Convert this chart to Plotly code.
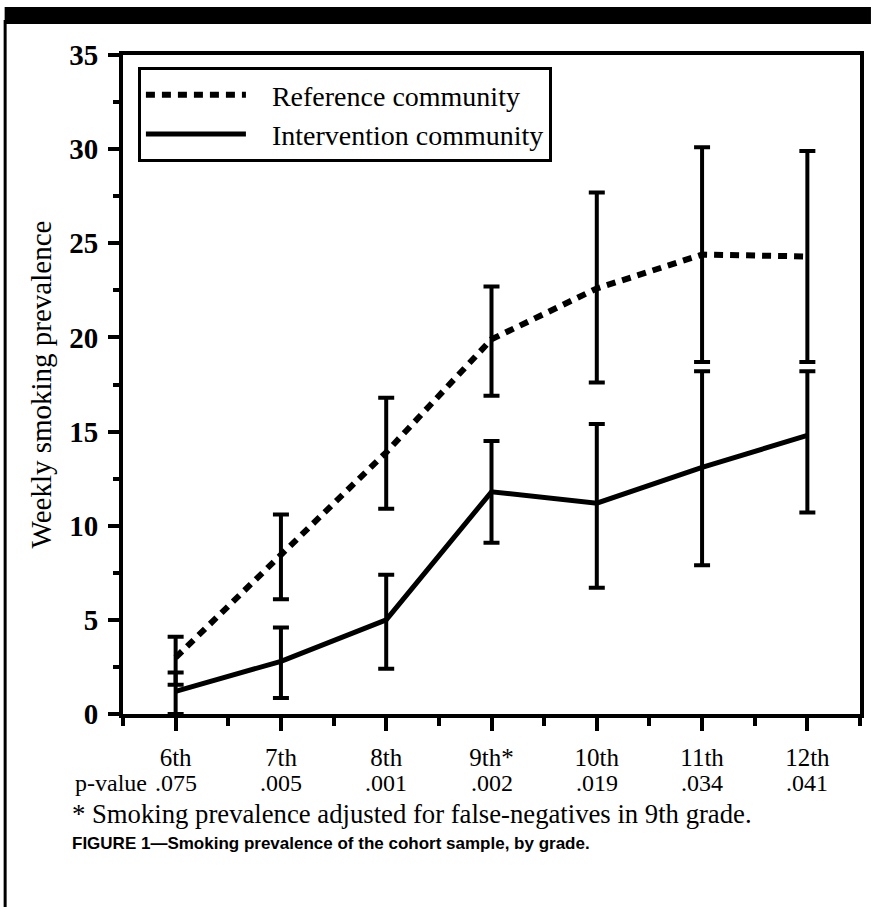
import plotly.graph_objects as go

# ---- data ----
grades = ["6th", "7th", "8th", "9th*", "10th", "11th", "12th"]
p_values = [".075", ".005", ".001", ".002", ".019", ".034", ".041"]

ref_mean = [3.0, 8.5, 13.9, 19.9, 22.6, 24.4, 24.3]
ref_upper = [4.1, 10.6, 16.8, 22.7, 27.7, 30.1, 29.9]
ref_lower = [1.55, 6.1, 10.9, 16.9, 17.6, 18.7, 18.7]

int_mean = [1.2, 2.8, 5.0, 11.8, 11.2, 13.1, 14.8]
int_upper = [2.2, 4.6, 7.4, 14.5, 15.4, 18.2, 18.2]
int_lower = [0.0, 0.85, 2.4, 9.1, 6.7, 7.9, 10.7]

y_ticks = [0, 5, 10, 15, 20, 25, 30, 35]

SERIF = "Liberation Serif, Times New Roman, serif"
SANS = "Liberation Sans, Arial, sans-serif"

W, H = 875, 907
L, R, T, B = 123, 11, 55, 193
pw, ph = W - L - R, H - T - B


def px_x(x):
    return (x - L) / pw


def px_y(y):
    return 1 - (y - T) / ph


xs = list(range(len(grades)))

fig = go.Figure()


def err(mean, up, lo):
    return dict(
        type="data", symmetric=False,
        array=[u - m for u, m in zip(up, mean)],
        arrayminus=[m - l for m, l in zip(mean, lo)],
        color="black", thickness=4, width=8,
    )


fig.add_trace(go.Scatter(
    x=xs, y=ref_mean, mode="lines", name="\u00a0\u00a0\u00a0Reference community",
    line=dict(color="black", width=6, dash="9px,7px"),
    error_y=err(ref_mean, ref_upper, ref_lower),
))
fig.add_trace(go.Scatter(
    x=xs, y=int_mean, mode="lines", name="\u00a0\u00a0\u00a0Intervention community",
    line=dict(color="black", width=5),
    error_y=err(int_mean, int_upper, int_lower),
))

annotations = []
for i, pv in enumerate(p_values):
    annotations.append(dict(
        x=i, y=px_y(783), xref="x", yref="paper", text=pv, showarrow=False,
        xanchor="center", yanchor="middle",
        font=dict(family=SERIF, size=24, color="black"),
    ))
annotations.append(dict(
    x=px_x(149), y=px_y(783), xref="paper", yref="paper", text="p-value",
    showarrow=False, xanchor="right", yanchor="middle",
    font=dict(family=SERIF, size=24, color="black"),
))
annotations.append(dict(
    x=px_x(70), y=px_y(814), xref="paper", yref="paper",
    text="* Smoking prevalence adjusted for false-negatives in 9th grade.",
    showarrow=False, xanchor="left", yanchor="middle",
    font=dict(family=SERIF, size=26.7, color="black"),
))
annotations.append(dict(
    x=px_x(70), y=px_y(843), xref="paper", yref="paper",
    text="<b>FIGURE 1—Smoking prevalence of the cohort sample, by grade.</b>",
    showarrow=False, xanchor="left", yanchor="middle",
    font=dict(family=SANS, size=17, color="black"),
))

shapes = [
    # top black band
    dict(type="rect", xref="paper", yref="paper",
         x0=px_x(4), x1=px_x(W), y0=px_y(24), y1=px_y(7),
         fillcolor="black", line=dict(width=0), layer="above"),
    # left border line
    dict(type="line", xref="paper", yref="paper",
         x0=px_x(4.5), x1=px_x(4.5), y0=px_y(H), y1=px_y(20),
         line=dict(color="black", width=3)),
]

fig.update_layout(
    width=W, height=H,
    margin=dict(l=L, r=R, t=T, b=B, pad=0),
    paper_bgcolor="white", plot_bgcolor="white",
    showlegend=True,
    legend=dict(
        x=px_x(138), y=px_y(67), xanchor="left", yanchor="top",
        bordercolor="black", borderwidth=3, bgcolor="white",
        font=dict(family=SERIF, size=28, color="black"),
        itemwidth=100, tracegroupgap=0,
    ),
    annotations=annotations,
    shapes=shapes,
    font=dict(family=SERIF, color="black"),
)

fig.update_xaxes(
    range=[-0.5, 6.5], tickmode="array", tickvals=xs, ticktext=grades,
    showline=True, linecolor="black", linewidth=4, mirror=True,
    ticks="outside", ticklen=13, tickwidth=4, tickcolor="black",
    showgrid=False, zeroline=False,
    tickfont=dict(family=SERIF, size=25, color="black"),
    ticklabelstandoff=5,
    minor=dict(tickmode="array", tickvals=[i - 0.5 for i in range(len(grades) + 1)],
               ticks="outside", ticklen=8, tickwidth=4, tickcolor="black"),
)
fig.update_yaxes(
    range=[0, 35], tickmode="array", tickvals=y_ticks,
    ticktext=[f"<b>{v}</b>" for v in y_ticks],
    showline=True, linecolor="black", linewidth=4, mirror=True,
    ticks="outside", ticklen=11, tickwidth=4, tickcolor="black",
    showgrid=False, zeroline=False,
    tickfont=dict(family=SERIF, size=29, color="black"),
    ticklabelstandoff=4,
    minor=dict(tickmode="array", tickvals=[v + 2.5 for v in y_ticks[:-1]],
               ticks="outside", ticklen=6, tickwidth=4, tickcolor="black"),
    title=dict(text="Weekly smoking prevalence",
               font=dict(family=SERIF, size=29, color="black"), standoff=10),
)

fig.write_html(
    "out.html",
    config={"displayModeBar": False},
    post_script="document.body.style.margin='0px';document.body.style.overflow='hidden';",
)
